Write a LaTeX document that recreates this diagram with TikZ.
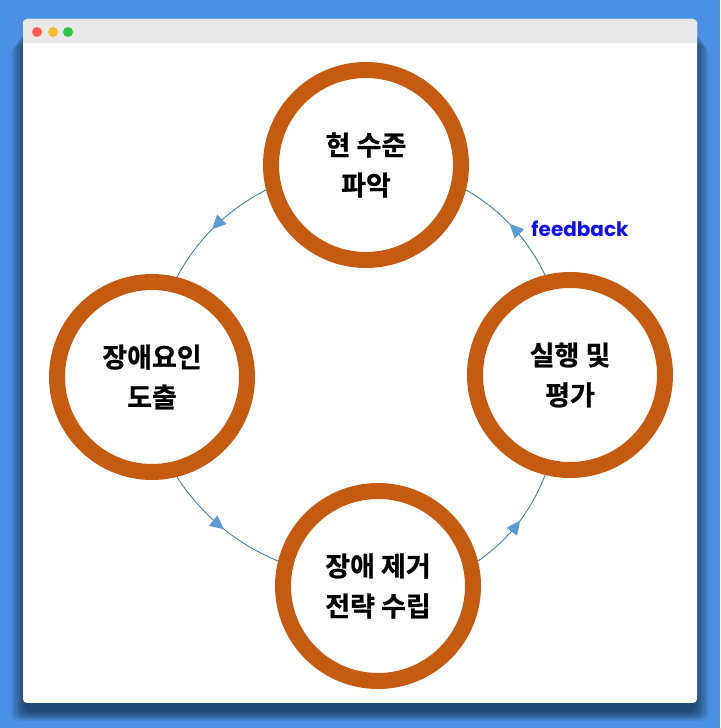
\documentclass[tikz,border=0pt]{standalone}
\usepackage{fontspec}
\newfontfamily\krfont{Noto Sans CJK KR}[BoldFont={Noto Sans CJK KR Bold}, BoldFeatures={FakeBold=0.8}]
\newfontfamily\fbfont{Poppins}[BoldFont={Poppins Bold}]
\usepackage{tikz}
\usetikzlibrary{arrows.meta, positioning, decorations.markings}

\definecolor{ringorange}{HTML}{C55A11}
\definecolor{linkblue}{HTML}{4A7DB0}
\definecolor{tipblue}{HTML}{5B9BD5}
\definecolor{deskblue}{HTML}{4A8FE2}
\definecolor{bargray}{HTML}{E8E8E8}
\definecolor{fbblue}{HTML}{1010E8}

\begin{document}
\begin{tikzpicture}[x=1pt, y=1pt,
      stage/.style={circle, draw=ringorange, line width=16pt, fill=white, minimum size=190pt,
        align=center, font=\krfont\bfseries\fontsize{27}{40}\selectfont},
      link/.style={draw=linkblue, line width=0.9pt, bend right=17, looseness=0.9,
        postaction={decorate}, decoration={markings,
          mark=at position 0.53 with {\arrow{Triangle[length=14pt, width=13pt, color=tipblue]}}}},
      light/.style={circle, minimum size=10pt, inner sep=0pt}
    ]
    \useasboundingbox (0,0) rectangle (720,728);
    % Desktop and window
    \fill[deskblue] (0,0) rectangle (720,728);
    \foreach \s in {0,...,9}
      \fill[black, opacity=0.06, rounded corners=8pt] (24-1.4*\s, 16-\s) rectangle (696+1.4*\s, 700-2*\s);
    \fill[white, rounded corners=4pt] (23,25) rectangle (697,709);
    \fill[bargray] (23,685) -- (23,705) arc[start angle=180, end angle=90, radius=4]
      -- (693,709) arc[start angle=90, end angle=0, radius=4] -- (697,685) -- cycle;
    \node[light, fill={rgb,255:red,255;green,95;blue,87}] (close) at (37,696) {};
    \node[light, fill={rgb,255:red,254;green,188;blue,46}] (shrink) at (53,696) {};
    \node[light, fill={rgb,255:red,40;green,200;blue,64}] (grow) at (68,696) {};

    % Stages
    \node[stage] (now) at (366,563) {현 수준\\파악};
    \node[stage] (cause) at (152,351) {장애요인\\도출};
    \node[stage] (plan) at (378,142) {장애 제거\\전략 수립};
    \node[stage] (check) at (570,353) {실행 및\\평가};

    % Cycle
    \draw[link] (now.194) to (cause.76);
    \draw[link] (cause.284) to (plan.166);
    \draw[link] (plan.14) to (check.256);
    \draw[link] (check.104) to (now.346);

    % Label
    \node[font=\fbfont\bfseries\fontsize{20}{24}\selectfont, text=fbblue] (fbnote) at (580,499) {feedback};
  \end{tikzpicture}
\end{document}
